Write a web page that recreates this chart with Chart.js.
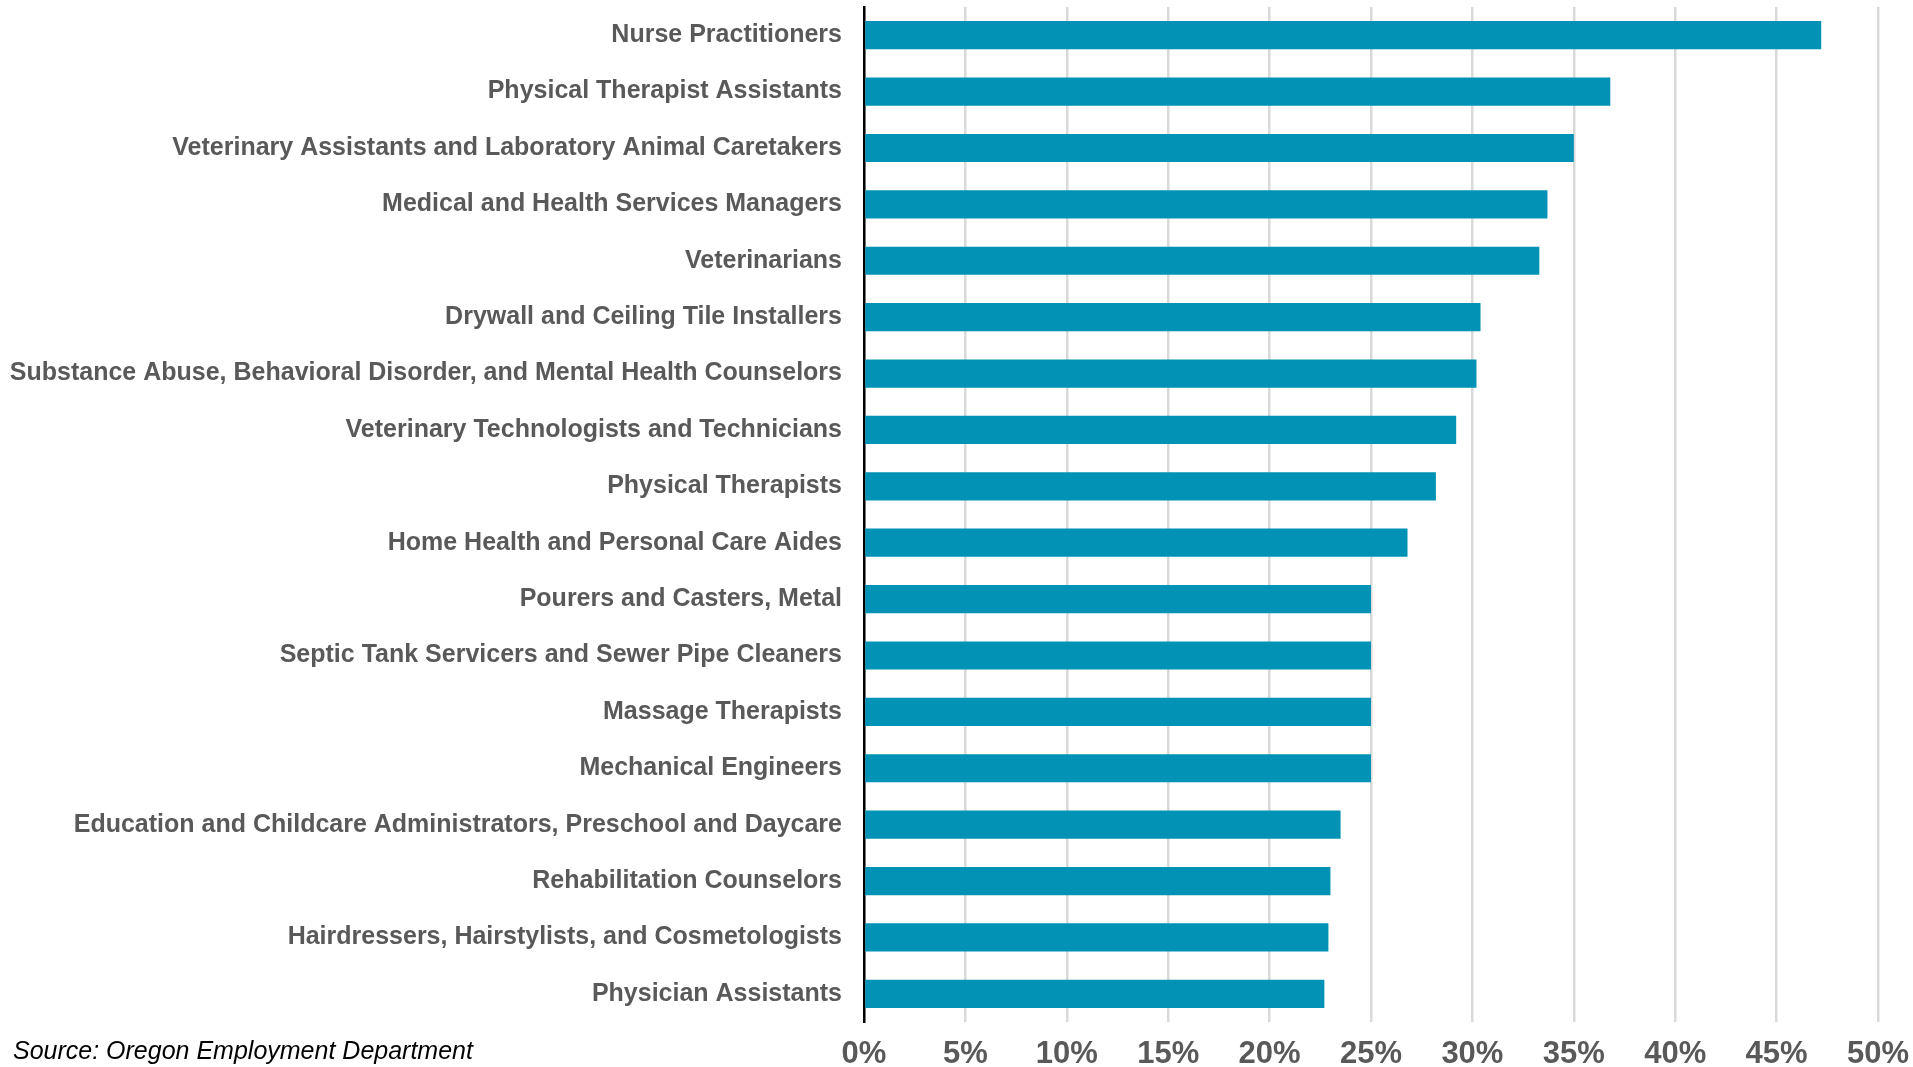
<!DOCTYPE html>
<html>
<head>
<meta charset="utf-8">
<title>Occupations growth</title>
<script src="https://cdn.jsdelivr.net/npm/chart.js@4.4.1/dist/chart.umd.min.js"></script>
<style>
    html, body { margin: 0; padding: 0; background: #fff; }
    #wrap { position: relative; width: 1913px; height: 1067px; }
</style>
</head>
<body>
<div id="wrap"><canvas id="occChart"></canvas></div>
<script>
// Occupations, top to bottom
const occupations = [
    'Nurse Practitioners',
    'Physical Therapist Assistants',
    'Veterinary Assistants and Laboratory Animal Caretakers',
    'Medical and Health Services Managers',
    'Veterinarians',
    'Drywall and Ceiling Tile Installers',
    'Substance Abuse, Behavioral Disorder, and Mental Health Counselors',
    'Veterinary Technologists and Technicians',
    'Physical Therapists',
    'Home Health and Personal Care Aides',
    'Pourers and Casters, Metal',
    'Septic Tank Servicers and Sewer Pipe Cleaners',
    'Massage Therapists',
    'Mechanical Engineers',
    'Education and Childcare Administrators, Preschool and Daycare',
    'Rehabilitation Counselors',
    'Hairdressers, Hairstylists, and Cosmetologists',
    'Physician Assistants'
];

// Percent values
const growthPct = [47.2, 36.8, 35.0, 33.7, 33.3, 30.4, 30.2, 29.2, 28.2, 26.8, 25.0, 25.0, 25.0, 25.0, 23.5, 23.0, 22.9, 22.7];

// x axis ticks
const tickValues = [0, 5, 10, 15, 20, 25, 30, 35, 40, 45, 50];

const sourceNote = 'Source: Oregon Employment Department';

const labelColor = '#595959';
const barColor = '#0192b5';

// draws the source line in the bottom left corner
const sourcePlugin = {
    id: 'sourceNote',
    afterDraw(chart) {
        const ctx = chart.ctx;
        ctx.save();
        ctx.font = 'italic 25px "Liberation Sans", Arial, sans-serif';
        ctx.fillStyle = '#000';
        ctx.textAlign = 'left';
        ctx.textBaseline = 'middle';
        ctx.fillText(sourceNote, 13, 1052);
        ctx.restore();
    }
};

const ctx = document.getElementById('occChart').getContext('2d');
const myChart = new Chart(ctx, {
    type: 'bar',
    data: {
        labels: occupations,
        datasets: [{
            data: growthPct,
            backgroundColor: barColor,
            borderWidth: 0,
            barPercentage: 0.5,
            categoryPercentage: 1.0
        }]
    },
    options: {
        indexAxis: 'y',
        responsive: true,
        maintainAspectRatio: false,
        animation: false,
        layout: {
            padding: { top: 7, right: 35, bottom: 0, left: 0 }
        },
        plugins: {
            legend: { display: false },
            tooltip: { enabled: false }
        },
        scales: {
            x: {
                min: 0,
                max: 50,
                afterBuildTicks: scale => {
                    scale.ticks = tickValues.map(v => ({ value: v }));
                },
                afterFit: scale => {
                    scale.height = 45;
                    scale.paddingLeft = 0;
                    scale.paddingRight = 0;
                },
                grid: {
                    color: '#d9d9d9',
                    lineWidth: 2.5,
                    drawTicks: false
                },
                border: { display: false },
                ticks: {
                    padding: 14,
                    color: labelColor,
                    font: { family: '"Liberation Sans", Arial, sans-serif', size: 31, weight: 'bold' },
                    callback: v => v + '%'
                }
            },
            y: {
                afterFit: scale => {
                    scale.width = 864;
                    scale.paddingTop = 0;
                    scale.paddingBottom = 0;
                },
                grid: { display: false, drawTicks: false },
                border: { display: true, color: '#000', width: 2.5 },
                ticks: {
                    padding: 22,
                    color: labelColor,
                    autoSkip: false,
                    font: { family: '"Liberation Sans", Arial, sans-serif', size: 25, weight: 'bold' }
                }
            }
        }
    },
    plugins: [sourcePlugin]
});
</script>
</body>
</html>
